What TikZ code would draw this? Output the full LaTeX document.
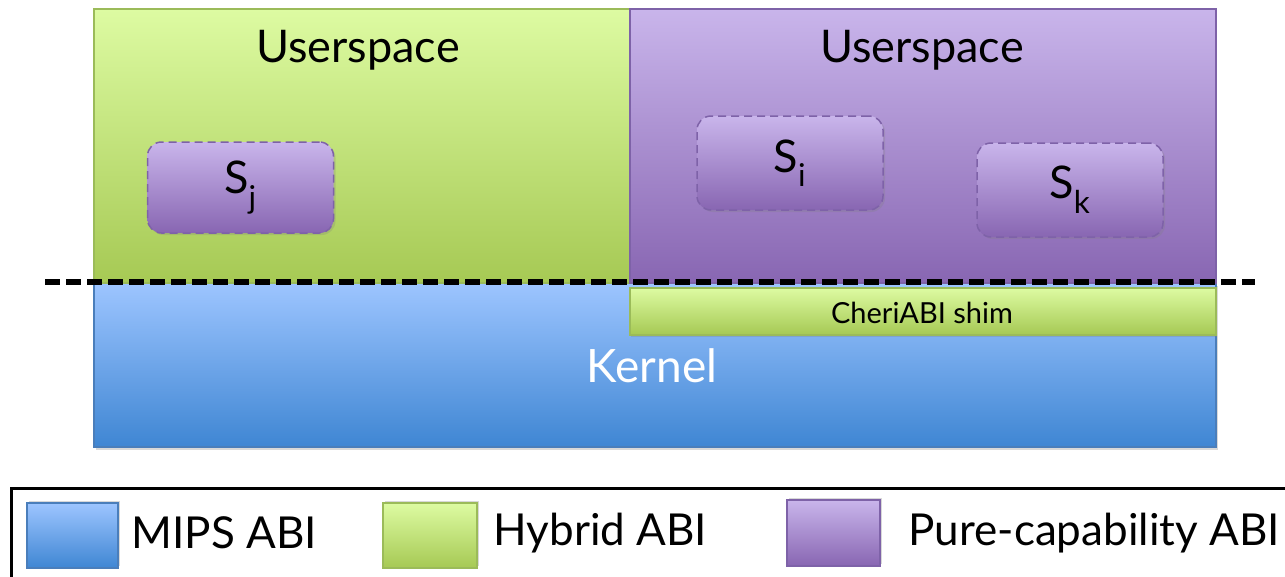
\documentclass[tikz,border=0pt]{standalone}
\usepackage{fontspec}
\setmainfont{Lato}
\usetikzlibrary{shadows}
\definecolor{gtop}{HTML}{DDFBA2}
\definecolor{gbot}{HTML}{A6C954}
\definecolor{gedge}{HTML}{9BBB59}
\definecolor{ptop}{HTML}{C9B5EB}
\definecolor{pbot}{HTML}{8866B2}
\definecolor{pedge}{HTML}{7E62A8}
\definecolor{btop}{HTML}{9DC5FF}
\definecolor{bbot}{HTML}{3F86D3}
\definecolor{bedge}{HTML}{4A7EBB}
\tikzset{
  greenfill/.style={top color=gtop,bottom color=gbot,draw=gedge,line width=1.5pt},
  purplefill/.style={top color=ptop,bottom color=pbot,draw=pedge,line width=1.5pt},
  bluefill/.style={top color=btop,bottom color=bbot,draw=bedge,line width=1.5pt},
  sbox/.style={purplefill,dashed,dash pattern=on 8pt off 5pt,rounded corners=14pt,line width=1.5pt},
  bigtxt/.style={font=\fontsize{45}{50}\selectfont},
  legtxt/.style={font=\fontsize{44}{50}\selectfont,anchor=west},
  swatch/.style={drop shadow={shadow xshift=2pt,shadow yshift=2pt,opacity=0.3}},
}
\begin{document}
\begin{tikzpicture}[x=1pt,y=-1pt]
\useasboundingbox (0,0) rectangle (1285,576);
\clip (0,0) rectangle (1285,576);
% kernel
\node[bluefill,minimum width=1122pt,minimum height=164pt,inner sep=0pt,anchor=north west,drop shadow={shadow xshift=2pt,shadow yshift=-3pt,opacity=0.3}] (kernel) at (93,282) {};
\node[font=\fontsize{46}{50}\selectfont,text=white] (klabel) at (652,366) {Kernel};
% userspaces
\node[greenfill,minimum width=536pt,minimum height=274pt,inner sep=0pt,anchor=north west] (ug) at (93,8) {};
\node[purplefill,minimum width=586pt,minimum height=274pt,inner sep=0pt,anchor=north west] (up) at (629,8) {};
\node[bigtxt] (ugl) at (358,50) {Userspace};
\node[bigtxt] (upl) at (922,50) {Userspace};
% shim
\node[greenfill,minimum width=586pt,minimum height=47pt,inner sep=0pt,anchor=north west,drop shadow={shadow xshift=1pt,shadow yshift=-2pt,opacity=0.3}] (shim) at (629,287) {};
\node[font=\fontsize{29}{32}\selectfont] (shiml) at (922,313) {CheriABI shim};
% sandboxes
\node[sbox,minimum width=186pt,minimum height=91pt,inner sep=0pt,drop shadow={shadow xshift=2pt,shadow yshift=-2pt,opacity=0.25}] (sj) at (240.5,187.5) {};
\node[bigtxt] at (sj) {S\textsubscript{j}};
\node[sbox,minimum width=186pt,minimum height=94pt,inner sep=0pt,drop shadow={shadow xshift=2pt,shadow yshift=-2pt,opacity=0.25}] (si) at (790,163) {};
\node[bigtxt] at (si) {S\textsubscript{i}};
\node[sbox,minimum width=186pt,minimum height=94pt,inner sep=0pt,drop shadow={shadow xshift=2pt,shadow yshift=-2pt,opacity=0.25}] (sk) at (1070,190) {};
\node[bigtxt] at (sk) {S\textsubscript{k}};
% dashed line
\coordinate (dl) at (45,282);
\coordinate (dr) at (1255,282);
\draw[line width=6pt,dash pattern=on 15pt off 6pt] (dl) -- (dr);
% legend
\node[draw=black,line width=3pt,fill=white,minimum width=1300pt,minimum height=100pt,inner sep=0pt,anchor=north west] (legend) at (10,487) {};
\node[bluefill,swatch,minimum width=91pt,minimum height=65pt,inner sep=0pt] (sw1) at (72.5,535.5) {};
\node[legtxt] (l1) at (128,533) {MIPS ABI};
\node[greenfill,swatch,minimum width=94pt,minimum height=65pt,inner sep=0pt] (sw2) at (430,535.5) {};
\node[legtxt] (l2) at (490,533) {Hybrid ABI};
\node[purplefill,swatch,minimum width=93pt,minimum height=66pt,inner sep=0pt] (sw3) at (833.5,533) {};
\node[legtxt] (l3) at (905,533) {Pure-capability ABI};
\end{tikzpicture}
\end{document}
